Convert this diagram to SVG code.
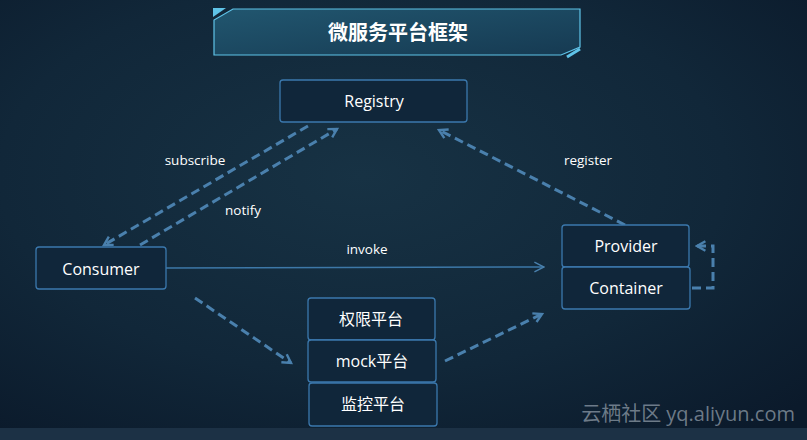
<svg xmlns="http://www.w3.org/2000/svg" width="807" height="440" viewBox="0 0 807 440">
<defs>
<radialGradient id="bg" cx="0.45" cy="0.4" r="0.75">
<stop offset="0" stop-color="#173244"/>
<stop offset="0.6" stop-color="#112739"/>
<stop offset="1" stop-color="#0b1a2b"/>
</radialGradient>
<linearGradient id="tg" x1="0" y1="0" x2="1" y2="1">
<stop offset="0" stop-color="#21566f"/>
<stop offset="1" stop-color="#163a52"/>
</linearGradient>
<marker id="ah" viewBox="0 0 10 10" refX="8" refY="5" markerWidth="4" markerHeight="4" orient="auto" markerUnits="strokeWidth">
<path d="M1,1 L8,5 L1,9" fill="none" stroke="#4a80ad" stroke-width="2"/>
</marker>
<marker id="ah2" viewBox="0 0 10 10" refX="9" refY="5" markerWidth="8" markerHeight="8" orient="auto" markerUnits="strokeWidth">
<path d="M1,1 L9,5 L1,9" fill="none" stroke="#4a80ad" stroke-width="1.2"/>
</marker>
</defs>
<style>
.box{fill:#10263a;stroke:#3b78ad;stroke-width:1.3}
.lbl{font-family:"Open Sans","Noto Sans CJK SC",sans-serif;font-size:16px;fill:#ffffff;text-anchor:middle}
.cl{font-family:"Open Sans","Noto Sans CJK SC",sans-serif;font-size:13.5px;fill:#ffffff;text-anchor:middle}
.dash{fill:none;stroke:#4a80ad;stroke-width:3;stroke-dasharray:9 5;marker-end:url(#ah)}
</style>
<rect width="807" height="440" fill="url(#bg)"/>
<rect x="0" y="428" width="807" height="12" fill="#1c3145"/>
<g id="title">
<polygon points="233,9 580,9 580,47 561,55 214,55 214,20" fill="url(#tg)" stroke="#5fc3e8" stroke-width="1.2"/>
<polygon points="213,8 226,8 213,17" fill="#5fc3e8"/>
<line x1="567" y1="57" x2="580" y2="49" stroke="#5fc3e8" stroke-width="3"/>
<text x="398" y="40" font-family="'Noto Sans CJK SC',sans-serif" font-size="20" font-weight="bold" fill="#ffffff" text-anchor="middle">微服务平台框架</text>
</g>
<g id="connectors">
<line class="dash" x1="308" y1="126" x2="104" y2="245"/>
<line class="dash" x1="140" y1="245" x2="337" y2="129"/>
<line class="dash" x1="625" y1="225" x2="439" y2="130"/>
<line x1="166" y1="268" x2="544" y2="267" stroke="#3d78a8" stroke-width="1.5" fill="none" marker-end="url(#ah2)"/>
<polyline class="dash" points="692,288 713,288 713,246 697,246"/>
<line class="dash" x1="195" y1="298" x2="291" y2="363"/>
<line class="dash" x1="445" y1="361" x2="542" y2="314"/>
<text class="cl" x="195" y="165">subscribe</text>
<text class="cl" x="243" y="215">notify</text>
<text class="cl" x="588" y="165">register</text>
<text class="cl" x="367" y="254">invoke</text>
</g>
<g id="registry">
<rect class="box" x="280" y="80" width="187" height="42" rx="3"/>
<text class="lbl" x="374" y="107">Registry</text>
</g>
<g id="consumer">
<rect class="box" x="36" y="247" width="130" height="42" rx="3"/>
<text class="lbl" x="101" y="275">Consumer</text>
</g>
<g id="provider">
<rect class="box" x="562" y="225" width="127" height="42" rx="3"/>
<text class="lbl" x="626" y="252">Provider</text>
</g>
<g id="container">
<rect class="box" x="562" y="267" width="128" height="42" rx="3"/>
<text class="lbl" x="626" y="294">Container</text>
</g>
<g id="auth">
<rect class="box" x="308" y="298" width="127" height="42" rx="3"/>
<text class="lbl" x="371" y="325">权限平台</text>
</g>
<g id="mock">
<rect class="box" x="308" y="340" width="128" height="42" rx="3"/>
<text class="lbl" x="372" y="367">mock平台</text>
</g>
<g id="monitor">
<rect class="box" x="309" y="383" width="128" height="43" rx="3"/>
<text class="lbl" x="373" y="410">监控平台</text>
</g>
<text x="795" y="421" font-family="'Open Sans','Noto Sans CJK SC',sans-serif" font-size="20" fill="#8d9aa6" fill-opacity="0.75" text-anchor="end">云栖社区 yq.aliyun.com</text>
</svg>
